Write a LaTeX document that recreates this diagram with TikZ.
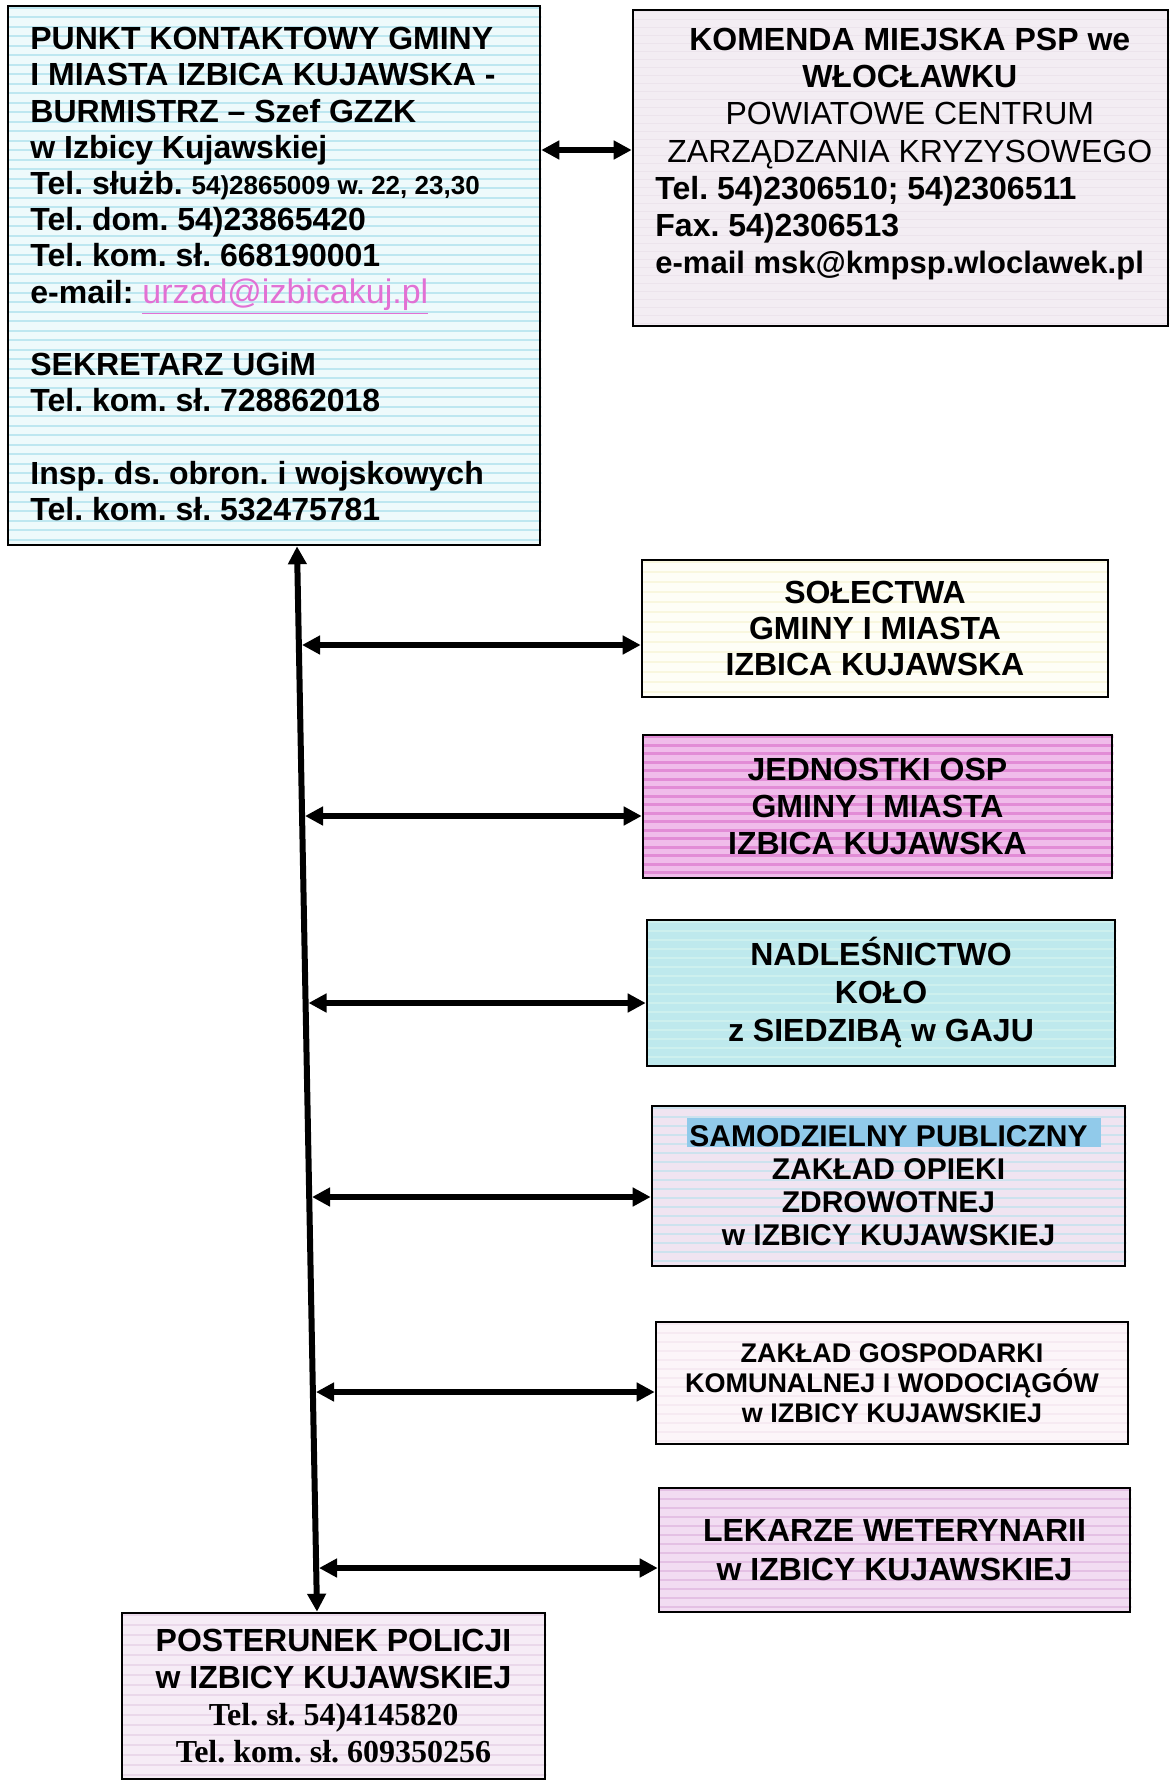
\documentclass[tikz,border=0pt]{standalone}
\usepackage{fontspec}
\setmainfont{Liberation Sans}
\newfontfamily\serifbold{Liberation Serif}
\usetikzlibrary{arrows.meta,calc,backgrounds}

\definecolor{pagewhite}{RGB}{255,255,255}
\definecolor{cyanbase}{RGB}{238,250,251}
\definecolor{cyanstripe}{RGB}{190,231,240}
\definecolor{lilacbase}{RGB}{243,237,243}
\definecolor{lilacstripe}{RGB}{236,228,236}
\definecolor{yellowbase}{RGB}{254,254,246}
\definecolor{yellowstripe}{RGB}{249,247,222}
\definecolor{pinkbase}{RGB}{240,188,234}
\definecolor{pinkstripe}{RGB}{226,140,214}
\definecolor{aquabase}{RGB}{190,233,237}
\definecolor{aquastripe}{RGB}{205,240,238}
\definecolor{rosebase}{RGB}{240,228,241}
\definecolor{rosestripe}{RGB}{205,226,238}
\definecolor{bandblue}{RGB}{145,202,234}
\definecolor{palebase}{RGB}{252,245,249}
\definecolor{palestripe}{RGB}{246,234,242}
\definecolor{vetbase}{RGB}{242,220,242}
\definecolor{vetstripe}{RGB}{228,192,228}
\definecolor{polbase}{RGB}{246,236,246}
\definecolor{polstripe}{RGB}{234,216,234}
\definecolor{linkpink}{RGB}{226,112,212}

\newcommand\stripefill[5]{%
  \fill[#2] (#1.north west) rectangle (#1.south east);
  \begin{scope}
    \clip (#1.north west) rectangle (#1.south east);
    \foreach \k in {0,...,60}{
      \draw[#3, line width=#5] ($(#1.north west)+(0,3+\k*#4)$) -- ++(560,0);
    }
  \end{scope}
}

\begin{document}
\frenchspacing
\begin{tikzpicture}[x=0.5pt,y=-0.5pt,
  box/.style={draw=black, line width=1.3pt, inner sep=0pt},
  biarrow/.style={{Triangle[length=9pt,width=9pt]}-{Triangle[length=9pt,width=9pt]}, line width=3pt},
  cbox/.style={box, align=center},
  bigbold/.style={font=\bfseries\fontsize{16}{#1}\selectfont}
]
\useasboundingbox (0,0) rectangle (1174,1782);

% ---------- boxes ----------
\node[box, minimum width=266pt, minimum height=269.5pt] (b1) at (274,275.5) {};
\node[anchor=north west, inner sep=0pt, font=\bfseries\fontsize{16}{18.1}\selectfont] (b1t) at (30,24) {%
\begin{tabular}{@{}l@{}}
PUNKT KONTAKTOWY GMINY\\
I MIASTA IZBICA KUJAWSKA -\\
BURMISTRZ – Szef GZZK\\
w Izbicy Kujawskiej\\
Tel. służb. {\fontsize{13}{18.1}\selectfont 54)2865009 w. 22, 23,30}\\
Tel. dom. 54)23865420\\
Tel. kom. sł. 668190001\\
e-mail: \textcolor{linkpink}{\mdseries\fontsize{17}{18.1}\selectfont\underline{urzad@izbicakuj.pl}}\\
\\
SEKRETARZ UGiM\\
Tel. kom. sł. 728862018\\
\\
Insp. ds. obron. i wojskowych\\
Tel. kom. sł. 532475781
\end{tabular}};

\node[box, minimum width=267.5pt, minimum height=158pt] (b2) at (900.5,168) {};
\node[anchor=north west, inner sep=0pt, font=\fontsize{16}{18.6}\selectfont] (b2t) at (655,24) {%
\begin{tabular}{@{}l@{}}
\multicolumn{1}{c}{\bfseries KOMENDA MIEJSKA PSP we}\\
\multicolumn{1}{c}{\bfseries WŁOCŁAWKU}\\
\multicolumn{1}{c}{POWIATOWE CENTRUM}\\
\multicolumn{1}{c}{ZARZĄDZANIA KRYZYSOWEGO}\\
\bfseries Tel. 54)2306510; 54)2306511\\
\bfseries Fax. 54)2306513\\
\bfseries\fontsize{15.5}{18.6}\selectfont e-mail msk@kmpsp.wloclawek.pl
\end{tabular}};

\node[cbox, bigbold=18, minimum width=233pt, minimum height=68.5pt] (b3) at (875,628.5)
  {SOŁECTWA\\GMINY I MIASTA\\IZBICA KUJAWSKA};
\node[cbox, bigbold=18.7, minimum width=234.5pt, minimum height=71.5pt] (b4) at (877.5,806.5)
  {JEDNOSTKI OSP\\GMINY I MIASTA\\IZBICA KUJAWSKA};
\node[cbox, bigbold=19, minimum width=234pt, minimum height=73pt] (b5) at (881,993)
  {NADLEŚNICTWO\\KOŁO\\z SIEDZIBĄ w GAJU};
\node[cbox, font=\bfseries\fontsize{15}{16.5}\selectfont, minimum width=236.5pt, minimum height=80pt] (b6) at (888.5,1186)
  {SAMODZIELNY PUBLICZNY\\ZAKŁAD OPIEKI\\ZDROWOTNEJ\\w IZBICY KUJAWSKIEJ};
\node[cbox, font=\bfseries\fontsize{13.5}{15}\selectfont, minimum width=236pt, minimum height=61pt] (b7) at (892,1383)
  {ZAKŁAD GOSPODARKI\\KOMUNALNEJ I WODOCIĄGÓW\\w IZBICY KUJAWSKIEJ};
\node[cbox, bigbold=19.5, minimum width=235.5pt, minimum height=62pt] (b8) at (894.5,1550)
  {LEKARZE WETERYNARII\\w IZBICY KUJAWSKIEJ};
\node[cbox, bigbold=18.5, minimum width=211.5pt, minimum height=83pt] (b9) at (333.5,1696)
  {POSTERUNEK POLICJI\\w IZBICY KUJAWSKIEJ\\{\serifbold\bfseries Tel. sł. 54)4145820}\\{\serifbold\bfseries Tel. kom. sł. 609350256}};

% ---------- backgrounds ----------
\begin{pgfonlayer}{background}
  \fill[pagewhite] (0,0) rectangle (1174,1782);
  \stripefill{b1}{cyanbase}{cyanstripe}{9.5}{1.1pt}
  \stripefill{b2}{lilacbase}{lilacstripe}{8}{0.6pt}
  \stripefill{b3}{yellowbase}{yellowstripe}{10}{1.2pt}
  \stripefill{b4}{pinkbase}{pinkstripe}{8.5}{1.3pt}
  \stripefill{b5}{aquabase}{aquastripe}{9}{1pt}
  \stripefill{b6}{rosebase}{rosestripe}{9}{1pt}
  \fill[bandblue] ($(b6.north west)+(36,13)$) rectangle ($(b6.north east)+(-25,42)$);
  \stripefill{b7}{palebase}{palestripe}{9}{0.8pt}
  \stripefill{b8}{vetbase}{vetstripe}{9}{1pt}
  \stripefill{b9}{polbase}{polstripe}{10}{0.8pt}
\end{pgfonlayer}

% ---------- connectors ----------
\coordinate (a12) at (0,150);
\draw[biarrow] (b1.east |- a12) -- (b2.west |- a12);

\coordinate (vxt) at (297,0);
\coordinate (vxb) at (317,0);
\draw[biarrow] (b1.south -| vxt) -- (b9.north -| vxb);

\coordinate (h3) at (302,645);
\coordinate (h4) at (305,816);
\coordinate (h5) at (308.5,1003);
\coordinate (h6) at (312,1197);
\coordinate (h7) at (316,1392);
\coordinate (h8) at (319,1568);
\draw[biarrow] (h3) -- (b3.west |- h3);
\draw[biarrow] (h4) -- (b4.west |- h4);
\draw[biarrow] (h5) -- (b5.west |- h5);
\draw[biarrow] (h6) -- (b6.west |- h6);
\draw[biarrow] (h7) -- (b7.west |- h7);
\draw[biarrow] (h8) -- (b8.west |- h8);
\end{tikzpicture}
\end{document}
